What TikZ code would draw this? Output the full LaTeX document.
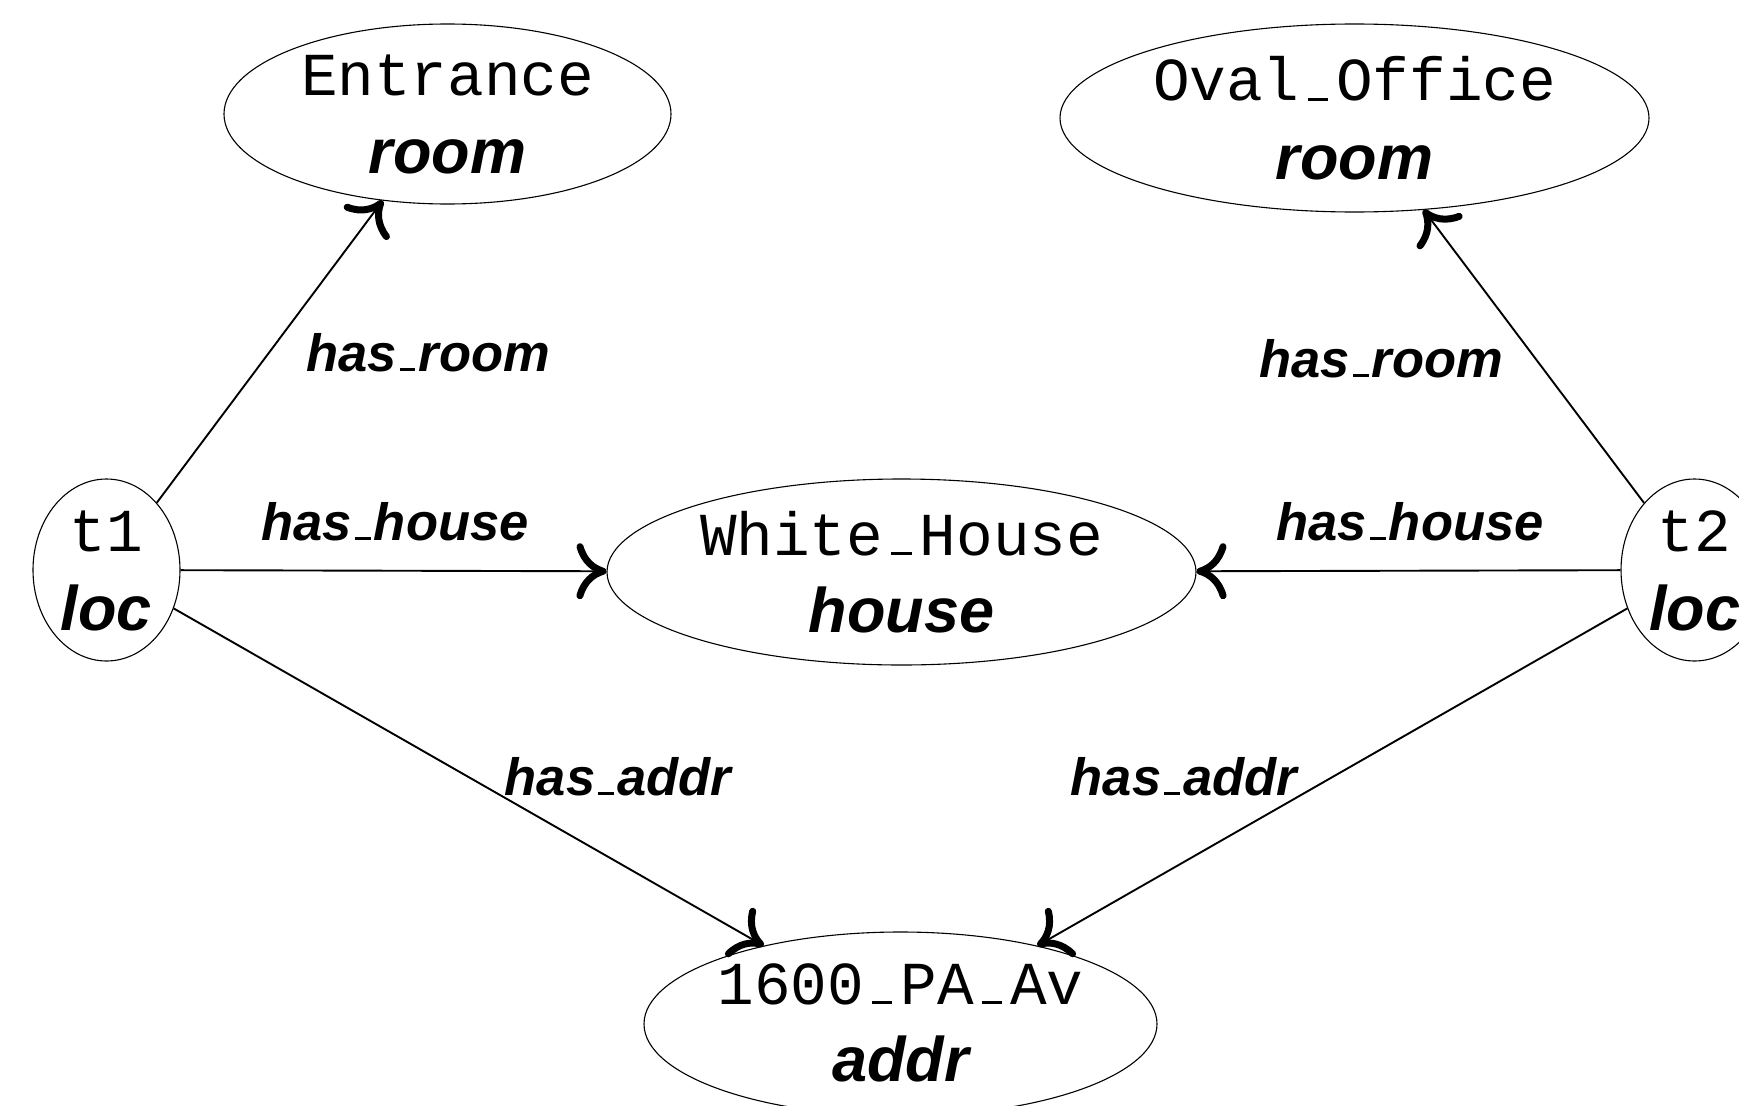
\documentclass[tikz,border=0pt]{standalone}
\usepackage{fontspec}
\setmainfont{Liberation Sans}
\newfontfamily\monof{Liberation Mono}
\usetikzlibrary{shapes.geometric,arrows.meta}
\newcommand\monous{\makebox[0.6em][c]{\rule{0.33em}{0.045em}}}
\newcommand\sansus{\kern0.06em\rule{0.3em}{0.06em}\kern0.06em}
\tikzset{
  ent/.style={ellipse, draw, line width=1.1pt, inner sep=0pt},
  nametxt/.style={anchor=base, font=\fontsize{61}{61}\monof, inner sep=0pt},
  typetxt/.style={anchor=base, font=\fontsize{63}{63}\selectfont\bfseries\itshape, inner sep=0pt},
  lbl/.style={anchor=base, font=\fontsize{52.5}{52.5}\selectfont\bfseries\itshape, inner sep=0pt},
  rel/.style={line width=1.9pt, -{To[length=30pt,width=56pt,line width=7pt]}}
}
\begin{document}
\begin{tikzpicture}[x=1pt,y=-1pt]
\useasboundingbox (0,0) rectangle (1739,1105);
% entity ellipses
\node[ent, minimum width=447pt, minimum height=180pt] (ent) at (447.5,114) {};
\node[ent, minimum width=589pt, minimum height=188pt] (oval) at (1354.5,118) {};
\node[ent, minimum width=589pt, minimum height=186pt] (wh) at (901.5,572) {};
\node[ent, minimum width=147pt, minimum height=182pt] (t1) at (106.5,570) {};
\node[ent, minimum width=147pt, minimum height=182pt] (t2) at (1694.5,570) {};
\node[ent, minimum width=513pt, minimum height=184pt] (addr) at (900.5,1024) {};
% texts
\node[nametxt] (entn) at ([yshift=18pt]ent.center) {Entrance};
\node[typetxt] (entt) at ([yshift=-59pt]ent.center) {room};
\node[nametxt] (ovaln) at ([yshift=17pt]oval.center) {Oval\monous Office};
\node[typetxt] (ovalt) at ([yshift=-61pt]oval.center) {room};
\node[nametxt] (whn) at ([yshift=17pt]wh.center) {White\monous House};
\node[typetxt] (wht) at ([yshift=-60pt]wh.center) {house};
\node[nametxt] (t1n) at ([yshift=19pt]t1.center) {t1};
\node[typetxt] (t1t) at ([yshift=-60pt]t1.center) {loc};
\node[nametxt] (t2n) at ([yshift=19pt]t2.center) {t2};
\node[typetxt] (t2t) at ([yshift=-60pt]t2.center) {loc};
\node[nametxt] (addrn) at ([yshift=20pt]addr.center) {1600\monous PA\monous Av};
\node[typetxt] (addrt) at ([yshift=-57pt]addr.center) {addr};
% relations
\draw[rel] (t1) -- (ent);
\draw[rel] (t1) -- (wh);
\draw[rel] (t1) -- (addr);
\draw[rel] (t2) -- (oval);
\draw[rel] (t2) -- (wh);
\draw[rel] (t2) -- (addr);
% relation labels
\node[lbl] (l1) at (428,371) {has\sansus room};
\node[lbl] (l2) at (395,540) {has\sansus house};
\node[lbl] (l3) at (618,795) {has\sansus addr};
\node[lbl] (l4) at (1381,377) {has\sansus room};
\node[lbl] (l5) at (1410,540) {has\sansus house};
\node[lbl] (l6) at (1184,795) {has\sansus addr};
\end{tikzpicture}
\end{document}
